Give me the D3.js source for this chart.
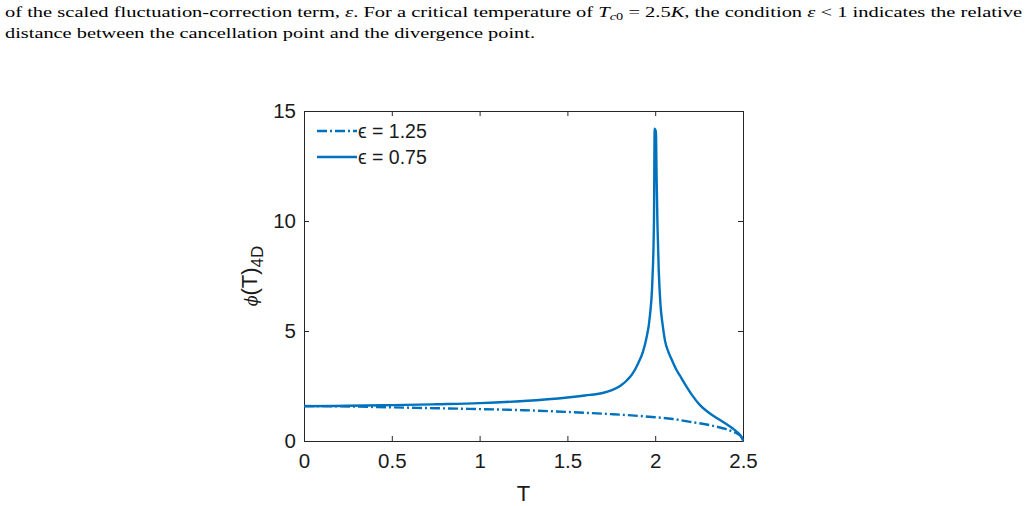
<!DOCTYPE html>
<html>
<head>
<meta charset="utf-8">
<script src="https://cdn.jsdelivr.net/npm/d3@7"></script>
<style>
  body { margin: 0; background: #fff; }
  svg { display: block; }
</style>
</head>
<body>
<script>
// data
var tDash = [0, 0.25, 0.5, 0.75, 1, 1.25, 1.5, 1.75, 2, 2.1, 2.2, 2.3, 2.35, 2.4, 2.44, 2.47, 2.49, 2.5];
var phiDash = [1.59, 1.57, 1.53, 1.49, 1.45, 1.40, 1.32, 1.22, 1.08, 1.0, 0.87, 0.74, 0.65, 0.55, 0.43, 0.32, 0.2, 0.02];

var tSolid = [0, 0.25, 0.5, 0.75, 1, 1.25, 1.5, 1.6, 1.7, 1.75, 1.8, 1.838, 1.87, 1.904, 1.93, 1.948, 1.97, 1.984, 1.993, 1.997,
              2.0, 2.004, 2.008, 2.013, 2.02, 2.03, 2.042, 2.056, 2.075, 2.094, 2.12, 2.15, 2.18, 2.207, 2.255, 2.3, 2.35, 2.4,
              2.44, 2.47, 2.49, 2.5];
var phiSolid = [1.58, 1.6, 1.63, 1.67, 1.72, 1.82, 1.98, 2.07, 2.18, 2.3, 2.5, 2.75, 3.05, 3.55, 4.05, 4.6, 5.7, 7.3, 10.0, 14.2,
                14.15, 14.05, 12.0, 9.8, 7.8, 6.2, 5.3, 4.55, 4.05, 3.7, 3.25, 2.85, 2.45, 2.12, 1.63, 1.32, 1.05, 0.8,
                0.58, 0.38, 0.2, 0.02];

var xTicks = [0, 0.5, 1, 1.5, 2, 2.5];
var yTicks = [0, 5, 10, 15];
var legendLabels = ["\u03f5 = 1.25", "\u03f5 = 0.75"];

var W = 1028, H = 506;
var pL = 304, pR = 743, pT = 111, pB = 441;
var blue = "#0072BD", axisCol = "#262626";

var svg = d3.select("body").append("svg").attr("width", W).attr("height", H);

// caption text above the figure
var cap = svg.append("g").attr("font-family", "'Liberation Serif', serif").attr("font-size", 15).attr("fill", "#000");
var l1 = cap.append("text").attr("x", 5).attr("y", 17).attr("textLength", 1017).attr("lengthAdjust", "spacingAndGlyphs");
l1.append("tspan").text("of the scaled fluctuation-correction term, ");
l1.append("tspan").attr("font-style", "italic").text("\u03b5");
l1.append("tspan").text(". For a critical temperature of ");
l1.append("tspan").attr("font-style", "italic").text("T");
l1.append("tspan").attr("font-style", "italic").attr("font-size", 10.5).attr("dy", 3).text("c");
l1.append("tspan").attr("font-size", 10.5).text("0");
l1.append("tspan").attr("dy", -3).text(" = 2.5");
l1.append("tspan").attr("font-style", "italic").text("K");
l1.append("tspan").text(", the condition ");
l1.append("tspan").attr("font-style", "italic").text("\u03b5");
l1.append("tspan").text(" < 1 indicates the relative");
cap.append("text").attr("x", 5).attr("y", 38).attr("textLength", 530).attr("lengthAdjust", "spacingAndGlyphs")
  .text("distance between the cancellation point and the divergence point.");

var x = d3.scaleLinear().domain([0, 2.5]).range([pL, pR]);
var y = d3.scaleLinear().domain([0, 15]).range([pB, pT]);

// axes box with inward ticks on all sides
var fontAx = "'Liberation Sans', Arial, sans-serif";
svg.append("g").attr("transform", "translate(0," + pB + ")")
  .call(d3.axisBottom(x).tickValues(xTicks).tickSizeInner(-5).tickSizeOuter(0).tickPadding(12)
    .tickFormat(function(d) { return d; }));
svg.append("g").attr("transform", "translate(0," + pT + ")")
  .call(d3.axisTop(x).tickValues(xTicks).tickSizeInner(-5).tickSizeOuter(0).tickFormat(""));
svg.append("g").attr("transform", "translate(" + pL + ",0)")
  .call(d3.axisLeft(y).tickValues(yTicks).tickSizeInner(-5).tickSizeOuter(0).tickPadding(8));
svg.append("g").attr("transform", "translate(" + pR + ",0)")
  .call(d3.axisRight(y).tickValues(yTicks).tickSizeInner(-5).tickSizeOuter(0).tickFormat(""));

svg.selectAll(".domain").attr("stroke", axisCol).attr("stroke-width", 1);
svg.selectAll(".tick line").attr("stroke", axisCol);
svg.selectAll(".tick text").attr("font-family", fontAx).attr("font-size", 20.5).attr("fill", "#1a1a1a");

// axis labels
svg.append("text").attr("x", (pL + pR) / 2).attr("y", 501)
  .attr("text-anchor", "middle").attr("font-family", fontAx).attr("font-size", 22).attr("fill", "#1a1a1a").text("T");
var yl = svg.append("text").attr("transform", "translate(257," + ((pT + pB) / 2) + ") rotate(-90)")
  .attr("text-anchor", "middle").attr("font-family", fontAx).attr("font-size", 22).attr("fill", "#1a1a1a");
yl.append("tspan").attr("font-family", "'DejaVu Serif', serif").attr("font-style", "italic").attr("font-size", 16).text("\u03d5");
yl.append("tspan").text("(T)");
yl.append("tspan").attr("font-size", 17).attr("dy", 6).text("4D");

// curves
svg.append("clipPath").attr("id", "clip").append("rect")
  .attr("x", pL).attr("y", pT - 2).attr("width", pR - pL + 2).attr("height", pB - pT + 4);

var line = d3.line()
  .x(function(d) { return x(d[0]); })
  .y(function(d) { return y(d[1]); })
  .curve(d3.curveMonotoneX);

var plot = svg.append("g").attr("clip-path", "url(#clip)");
plot.append("path").datum(d3.zip(tDash, phiDash)).attr("d", line)
  .attr("fill", "none").attr("stroke", blue).attr("stroke-width", 2.4).attr("stroke-dasharray", "10,3,2,3");
plot.append("path").datum(d3.zip(tSolid, phiSolid)).attr("d", line)
  .attr("fill", "none").attr("stroke", blue).attr("stroke-width", 2.4);

// legend (no box)
var leg = svg.append("g");
legendLabels.forEach(function(lab, i) {
  var ly = 131 + i * 26;
  leg.append("line").attr("x1", 317).attr("x2", 357).attr("y1", ly).attr("y2", ly)
    .attr("stroke", blue).attr("stroke-width", 2.4)
    .attr("stroke-dasharray", i === 0 ? "10,3,2,3" : null);
  leg.append("text").attr("x", 358).attr("y", ly + 7).attr("font-family", fontAx).attr("font-size", 19.5)
    .attr("fill", "#1a1a1a").text(lab);
});
</script>
</body>
</html>
